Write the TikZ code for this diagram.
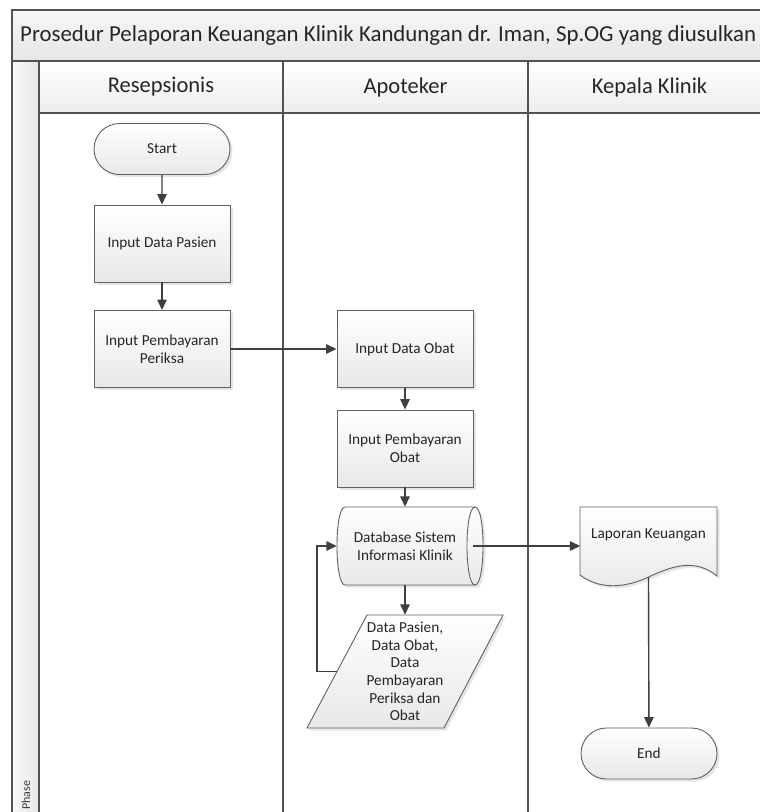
\documentclass[tikz,border=0pt]{standalone}
\usepackage{fontspec}
\setmainfont{Carlito}
\usetikzlibrary{arrows.meta,shadows,shapes.misc,calc}

\tikzset{
  frameline/.style={draw=black!68, line width=1.3pt},
  boxshadow/.style={drop shadow={shadow xshift=2.5pt, shadow yshift=-2.5pt, fill=black!14, opacity=0.7}},
  boxfill/.style={top color=white, bottom color=black!9},
  boxline/.style={draw=black!62, line width=0.9pt},
  boxtext/.style={align=center, text=black!85, font=\fontsize{15.3}{17.6}\selectfont, inner sep=0pt},
  proc/.style={boxline, boxfill, boxshadow, boxtext, minimum width=136pt, minimum height=77pt},
  term/.style={proc, rounded rectangle, minimum height=51pt},
  holder/.style={boxtext, minimum width=136pt, minimum height=78pt},
  flow/.style={draw=black!75, line width=1.4pt, -{Triangle[length=10.5pt,width=9.5pt]}},
  lanehead/.style={text=black!85, font=\fontsize{22.5}{26}\selectfont, inner sep=0pt}
}

\begin{document}
\begin{tikzpicture}[x=1pt, y=-1pt]
\useasboundingbox (0,0) rectangle (760,812);
\begin{scope}
\clip (0,0) rectangle (760,812);

% pool background: title band, lane headers, phase strip, lane bodies
\path[fill=white] (12,10) rectangle (780,830);
\path[top color=black!3, bottom color=black!10] (12,10) rectangle (780,61);
\path[top color=white, bottom color=black!7] (39,61) rectangle (780,113);
\path[left color=black!3, right color=black!9] (12,61) rectangle (39,830);

% pool and lane borders
\draw[frameline] (12,830) -- (12,10) -- (780,10);
\draw[frameline] (12,61) -- (780,61);
\draw[frameline] (39,113) -- (780,113);
\draw[frameline] (39,61) -- (39,830);
\draw[frameline] (283,61) -- (283,830);
\draw[frameline] (528,61) -- (528,830);

\node[lanehead, anchor=west, font=\fontsize{22.85}{27}\selectfont] (title) at (20,36)
  {Prosedur Pelaporan Keuangan Klinik Kandungan dr. Iman, Sp.OG yang diusulkan};
\node[lanehead] (h1) at (161,87) {Resepsionis};
\node[lanehead] (h2) at (405.5,87) {Apoteker};
\node[lanehead] (h3) at (649.5,87) {Kepala Klinik};
\node[rotate=90, anchor=west, text=black!78, font=\fontsize{12}{14}\selectfont, inner sep=0pt]
  (phase) at (26,810) {Phase};

% Resepsionis
\node[term] (start) at (162,149) {Start};
\node[proc] (idp) at (162,243.5) {Input Data Pasien};
\node[proc] (ipp) at (162,349) {Input Pembayaran\\Periksa};

% Apoteker
\node[proc] (ido) at (405,349) {Input Data Obat};
\node[proc] (ipo) at (405,448.5) {Input Pembayaran\\Obat};

% database (direct access storage)
\path[boxline, boxfill, boxshadow]
  (345,507) -- (475,507) .. controls (485.7,507) and (485.7,585) .. (475,585)
  -- (345,585) .. controls (334.3,585) and (334.3,507) .. (345,507) -- cycle;
\draw[boxline] (475,507) .. controls (464.3,507) and (464.3,585) .. (475,585);
\node[holder] (db) at (405,546) {Database Sistem\\Informasi Klinik};

% data (parallelogram)
\path[boxline, boxfill, boxshadow]
  (367,615) -- (503,615) -- (444,728) -- (307,728) -- cycle;
\node[holder, minimum height=113pt] (data) at (405,671.5)
  {Data Pasien,\\Data Obat,\\Data\\Pembayaran\\Periksa dan\\Obat};

% Kepala Klinik: document
\path[boxline, boxfill, boxshadow]
  (580,507) -- (717,507) -- (717,576)
  .. controls (695,558) and (672,566) .. (648.5,577)
  .. controls (625,588) and (600,590) .. (580,575) -- cycle;
\node[holder] (lap) at (648.5,546) {};
\node[boxtext] (lapt) at (648.5,535) {Laporan Keuangan};
\coordinate (lapb) at (648.5,577);

\node[term] (end) at (649,753.5) {End};

% connectors
\draw[flow] (start) -- (idp);
\draw[flow] (idp) -- (ipp);
\draw[flow] (ipp) -- (ido);
\draw[flow] (ido) -- (ipo);
\draw[flow] (ipo) -- (db);
\draw[flow] (db) -- (data);
\draw[flow] (data.west) -- (317,671.5) |- (db.west);
\draw[flow] (db.east) -- (lap.west);
\draw[flow] (lapb) -- (end);
\end{scope}
\end{tikzpicture}
\end{document}
